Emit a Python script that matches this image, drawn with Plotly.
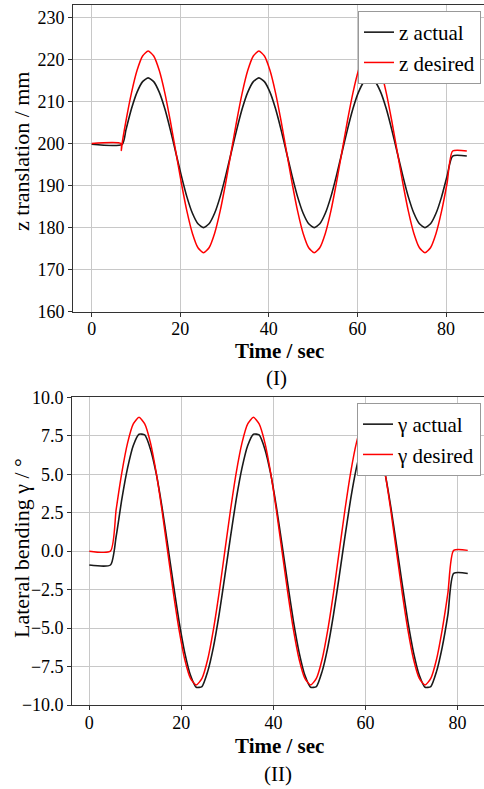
import plotly.graph_objects as go

# ---------------- Panel (I): z translation ----------------
t_grid_I = [7.75, 9.0, 10.25, 11.5,
            12.75, 14.0, 15.25, 16.5, 17.75, 19.0, 20.25, 21.5, 22.75, 24.0,
            25.25, 26.5, 27.75, 29.0, 30.25, 31.5, 32.75, 34.0, 35.25, 36.5,
            37.75, 39.0, 40.25, 41.5, 42.75, 44.0, 45.25, 46.5, 47.75, 49.0,
            50.25, 51.5, 52.75, 54.0, 55.25, 56.5, 57.75, 59.0, 60.25, 61.5,
            62.75, 64.0, 65.25, 66.5, 67.75, 69.0, 70.25, 71.5, 72.75, 74.0,
            75.25, 76.5, 77.75, 79.0, 80.25, 81.5]

z_actual_grid = [203.3, 208.3, 212.2, 214.7,
                 215.6, 214.7, 212.2, 208.3, 203.3, 197.8, 192.3, 187.3, 183.4, 180.9,
                 180.0, 180.9, 183.4, 187.3, 192.3, 197.8, 203.3, 208.3, 212.2, 214.7,
                 215.6, 214.7, 212.2, 208.3, 203.3, 197.8, 192.3, 187.3, 183.4, 180.9,
                 180.0, 180.9, 183.4, 187.3, 192.3, 197.8, 203.3, 208.3, 212.2, 214.7,
                 215.6, 214.7, 212.2, 208.3, 203.3, 197.8, 192.3, 187.3, 183.4, 180.9,
                 180.0, 180.9, 183.4, 187.3, 192.3, 197.0]

z_desired_grid = [205.4, 212.1, 217.4, 220.8,
                  222.0, 220.8, 217.4, 212.1, 205.4, 198.0, 190.6, 183.9, 178.6, 175.2,
                  174.0, 175.2, 178.6, 183.9, 190.6, 198.0, 205.4, 212.1, 217.4, 220.8,
                  222.0, 220.8, 217.4, 212.1, 205.4, 198.0, 190.6, 183.9, 178.6, 175.2,
                  174.0, 175.2, 178.6, 183.9, 190.6, 198.0, 205.4, 212.1, 217.4, 220.8,
                  222.0, 220.8, 217.4, 212.1, 205.4, 198.0, 190.6, 183.9, 178.6, 175.2,
                  174.0, 175.2, 178.6, 183.9, 190.6, 198.2]

t_z_actual = [0.0, 6.9] + t_grid_I + [84.7]
z_actual = [199.8, 199.8] + z_actual_grid + [197.0]

t_z_desired = [0.0, 6.6, 6.7, 6.85] + t_grid_I + [84.7]
z_desired = [200.0, 200.0, 198.3, 199.8] + z_desired_grid + [198.2]

# ---------------- Panel (II): lateral bending gamma ----------------
t_grid_II = [4.59, 5.83, 7.07, 8.32, 9.56,
             10.80, 12.04, 13.29, 14.53, 15.77, 17.01, 18.26, 19.50, 20.74, 21.98,
             23.23, 24.47, 25.71, 26.95, 28.20, 29.44, 30.68, 31.92, 33.17, 34.41,
             35.65, 36.89, 38.14, 39.38, 40.62, 41.86, 43.11, 44.35, 45.59, 46.83,
             48.08, 49.32, 50.56, 51.80, 53.05, 54.29, 55.53, 56.77, 58.02, 59.26,
             60.50, 61.74, 62.99, 64.23, 65.47, 66.71, 67.96, 69.20, 70.44, 71.68,
             72.93, 74.17, 75.41, 76.65, 77.90, 79.14]

g_actual_grid = [-0.90, 0.94, 3.38, 5.41, 6.87,
                 7.60, 7.55, 6.63, 5.05, 2.91, 0.43, -2.14, -4.58, -6.61, -8.07,
                 -8.85, -8.80, -7.83, -6.25, -4.11, -1.63, 0.94, 3.38, 5.41, 6.87,
                 7.60, 7.55, 6.63, 5.05, 2.91, 0.43, -2.14, -4.58, -6.61, -8.07,
                 -8.85, -8.80, -7.83, -6.25, -4.11, -1.63, 0.94, 3.38, 5.41, 6.87,
                 7.60, 7.55, 6.63, 5.05, 2.91, 0.43, -2.14, -4.58, -6.61, -8.07,
                 -8.85, -8.80, -7.83, -6.25, -4.11, -1.45]

g_desired_grid = [0.00, 2.69, 5.11, 7.04, 8.27,
                  8.70, 8.27, 7.04, 5.11, 2.69, 0.00, -2.69, -5.11, -7.04, -8.27,
                  -8.70, -8.27, -7.04, -5.11, -2.69, 0.00, 2.69, 5.11, 7.04, 8.27,
                  8.70, 8.27, 7.04, 5.11, 2.69, 0.00, -2.69, -5.11, -7.04, -8.27,
                  -8.70, -8.27, -7.04, -5.11, -2.69, 0.00, 2.69, 5.11, 7.04, 8.27,
                  8.70, 8.27, 7.04, 5.11, 2.69, 0.00, -2.69, -5.11, -7.04, -8.27,
                  -8.70, -8.27, -7.04, -5.11, -2.69, 0.05]

t_g_actual = [0.0] + t_grid_II + [82.2]
g_actual = [-0.90] + g_actual_grid + [-1.45]

t_g_desired = [0.0] + t_grid_II + [82.2]
g_desired = [0.00] + g_desired_grid + [0.05]

x_ticks = [0, 20, 40, 60, 80]
z_ticks = [160, 170, 180, 190, 200, 210, 220, 230]
g_ticks = [-10.0, -7.5, -5.0, -2.5, 0.0, 2.5, 5.0, 7.5, 10.0]

FONT = "Liberation Serif, Times New Roman, serif"
BLACK = "#1a1a1a"
RED = "#ff0000"
GRID = "#c8c8c8"
AXC = "#333333"

W, H = 484, 789


def px(x):
    return x / W


def py(y):
    return 1 - y / H


line_kw = dict(shape="spline", smoothing=0.6)

fig = go.Figure()
fig.add_trace(go.Scatter(x=t_z_actual, y=z_actual, name="z actual", mode="lines",
                         line=dict(color=BLACK, width=1.6, **line_kw), xaxis="x", yaxis="y",
                         legend="legend"))
fig.add_trace(go.Scatter(x=t_z_desired, y=z_desired, name="z desired", mode="lines",
                         line=dict(color=RED, width=1.5, **line_kw), xaxis="x", yaxis="y",
                         legend="legend"))
fig.add_trace(go.Scatter(x=t_g_actual, y=g_actual, name="γ actual", mode="lines",
                         line=dict(color=BLACK, width=1.6, **line_kw), xaxis="x2", yaxis="y2",
                         legend="legend2"))
fig.add_trace(go.Scatter(x=t_g_desired, y=g_desired, name="γ desired", mode="lines",
                         line=dict(color=RED, width=1.5, **line_kw), xaxis="x2", yaxis="y2",
                         legend="legend2"))

axis_common = dict(showgrid=True, gridcolor=GRID, gridwidth=1, showline=True,
                   linecolor=AXC, linewidth=1.3, ticks="outside", ticklen=4,
                   tickcolor=AXC, zeroline=False, automargin=False,
                   tickfont=dict(family=FONT, size=18, color="black"))

legend_common = dict(xanchor="right", yanchor="top", bordercolor="#999999",
                     borderwidth=1, bgcolor="white",
                     font=dict(family=FONT, size=21, color="black"))

fig.update_layout(
    width=W, height=H,
    margin=dict(l=0, r=0, t=0, b=0, pad=0, autoexpand=False),
    paper_bgcolor="white", plot_bgcolor="white",
    font=dict(family=FONT, size=18, color="black"),
    xaxis=dict(domain=[px(73.3), 1], range=[-4.15, 88.58], tickvals=x_ticks,
               mirror=True, anchor="y", ticklabelstandoff=-3, **axis_common),
    yaxis=dict(domain=[py(311.7), py(4.67)], range=[160, 233.0], tickvals=z_ticks,
               anchor="x", **axis_common),
    xaxis2=dict(domain=[px(72.3), 1], range=[-3.69, 85.73], tickvals=x_ticks,
                mirror=True, anchor="y2", ticklabelstandoff=-3, **axis_common),
    yaxis2=dict(domain=[py(705), py(397.3)], range=[-10, 10], tickvals=g_ticks,
                tickformat=".1f", anchor="x2", **axis_common),
    legend=dict(x=px(481), y=py(11), **legend_common),
    legend2=dict(x=px(481), y=py(403), **legend_common),
    showlegend=True,
)

ann_font = dict(family=FONT, size=21, color="black")
annotations = [
    dict(text="<b>Time / sec</b>", x=px(279), y=py(351.5), font=ann_font),
    dict(text="(I)", x=px(276), y=py(377.5), font=ann_font),
    dict(text="z translation / mm", x=px(22), y=py(152), textangle=-90,
         font=dict(family=FONT, size=22, color="black")),
    dict(text="<b>Time / sec</b>", x=px(279), y=py(745.5), font=ann_font),
    dict(text="(II)", x=px(278), y=py(773.5), font=ann_font),
    dict(text="Lateral bending γ / °", x=px(21), y=py(548), textangle=-90,
         font=dict(family=FONT, size=22, color="black")),
]
for a in annotations:
    a.update(xref="paper", yref="paper", showarrow=False, xanchor="center", yanchor="middle")
fig.update_layout(annotations=annotations)

fig.write_html(
    "out.html",
    config={"displayModeBar": False},
    post_script="document.body.style.margin='0px';document.body.style.overflow='hidden';",
)
